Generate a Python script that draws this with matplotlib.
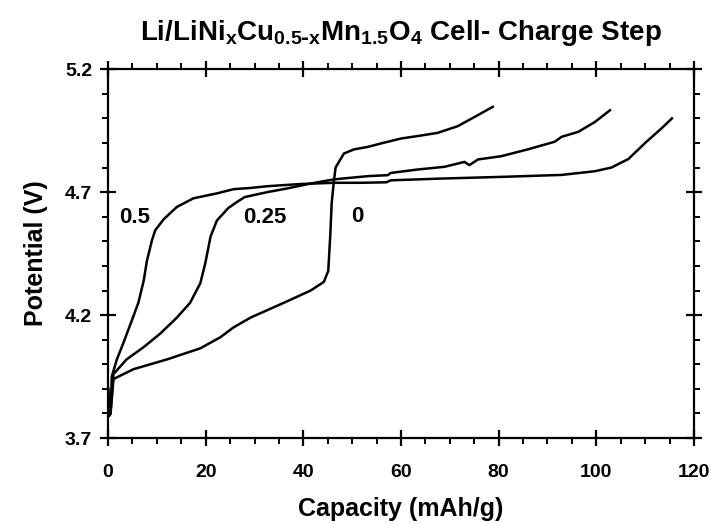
import matplotlib
matplotlib.use("Agg")
import matplotlib.pyplot as plt
from matplotlib.ticker import MultipleLocator

plt.rcParams['font.family'] = ['Liberation Sans', 'DejaVu Sans']
plt.rcParams['font.weight'] = 'bold'
plt.rcParams['mathtext.default'] = 'regular'

# Curve x = 0.5
cap_05 = [0.0, 0.2, 0.5, 0.76, 1.8, 3.1, 4.9, 6.2, 7.3, 7.95, 9.0, 9.66, 11.4, 14.1, 17.5,
          22.3, 25.7, 29.2, 32.6, 39.4, 46.3, 51.8, 57.0, 57.9, 68.0, 80.5, 92.9, 99.7,
          103.1, 106.6, 110.0, 113.4, 115.5]
pot_05 = [3.90, 3.79, 3.80, 3.95, 4.02, 4.085, 4.18, 4.25, 4.34, 4.42, 4.505, 4.545, 4.59,
          4.64, 4.675, 4.695, 4.712, 4.717, 4.724, 4.733, 4.738, 4.738, 4.740, 4.748, 4.755,
          4.762, 4.770, 4.785, 4.80, 4.835, 4.90, 4.96, 5.00]

# Curve x = 0.25
cap_025 = [0.0, 0.2, 0.5, 1.1, 3.8, 7.3, 10.7, 14.1, 16.8, 18.9, 19.9, 21.0, 22.3, 23.7,
           24.6, 26.4, 28.0, 32.6, 36.7, 41.5, 46.3, 53.2, 57.3, 57.9, 63.4, 68.9, 73.0,
           74.0, 75.8, 80.5, 86.0, 91.5, 92.9, 96.3, 99.7, 102.8]
pot_025 = [3.90, 3.79, 3.80, 3.96, 4.02, 4.07, 4.125, 4.19, 4.25, 4.33, 4.41, 4.52, 4.585,
           4.615, 4.635, 4.66, 4.68, 4.70, 4.715, 4.735, 4.752, 4.765, 4.769, 4.778, 4.792,
           4.803, 4.823, 4.81, 4.833, 4.846, 4.874, 4.905, 4.925, 4.945, 4.985, 5.033]

# Curve x = 0
cap_0 = [0.0, 0.2, 0.5, 1.1, 5.2, 12.1, 18.9, 23.0, 25.7, 29.2, 36.0, 41.5, 44.2, 45.1,
         45.5, 45.8, 46.2, 46.6, 48.3, 50.4, 53.2, 55.9, 60.0, 63.4, 67.5, 71.6, 75.1, 78.8]
pot_0 = [3.90, 3.79, 3.80, 3.94, 3.98, 4.02, 4.065, 4.11, 4.15, 4.19, 4.25, 4.30, 4.335,
         4.38, 4.52, 4.655, 4.735, 4.80, 4.857, 4.874, 4.884, 4.898, 4.918, 4.928, 4.941,
         4.968, 5.006, 5.047]

labels = ['0.5', '0.25', '0']
label_x = [5.5, 32.2, 51.1]
label_y = [4.595, 4.595, 4.60]

fig = plt.figure(figsize=(7.11, 5.24), dpi=100)
ax = fig.add_axes([0.152, 0.164, 0.824, 0.704])

for cx, cy in [(cap_05, pot_05), (cap_025, pot_025), (cap_0, pot_0)]:
    ax.plot(cx, cy, color='black', lw=1.8, solid_joinstyle='round')

for t, lx, ly in zip(labels, label_x, label_y):
    ax.text(lx, ly, t, fontsize=16, fontweight='bold', ha='center', va='center')

ax.set_xlim(0, 120)
ax.set_ylim(3.7, 5.2)
ax.xaxis.set_minor_locator(MultipleLocator(5))
ax.yaxis.set_minor_locator(MultipleLocator(0.1))
ax.set_xticks([0, 20, 40, 60, 80, 100, 120])
ax.set_yticks([3.7, 4.2, 4.7, 5.2])
ax.set_yticklabels(['3.7', '4.2', '4.7', '5.2'])

for s in ax.spines.values():
    s.set_linewidth(1.6)
ax.tick_params(which='major', direction='inout', length=11, width=1.6, top=True, right=True,
               labelsize=14, pad=6)
ax.tick_params(which='minor', direction='out', length=4, width=1.4, top=True, right=True)
ax.tick_params(axis='x', which='major', pad=13)
for lab in ax.get_xticklabels() + ax.get_yticklabels():
    lab.set_fontweight('bold')

ax.set_xlabel('Capacity (mAh/g)', fontsize=18, fontweight='bold', labelpad=12)
ax.set_ylabel('Potential (V)', fontsize=18, fontweight='bold', labelpad=12)
ax.set_title(r'Li/LiNi$_{x}$Cu$_{0.5\text{-}x}$Mn$_{1.5}$O$_{4}$ Cell- Charge Step',
             fontsize=20, fontweight='bold', pad=21)

fig.savefig('out.png', dpi=100)
